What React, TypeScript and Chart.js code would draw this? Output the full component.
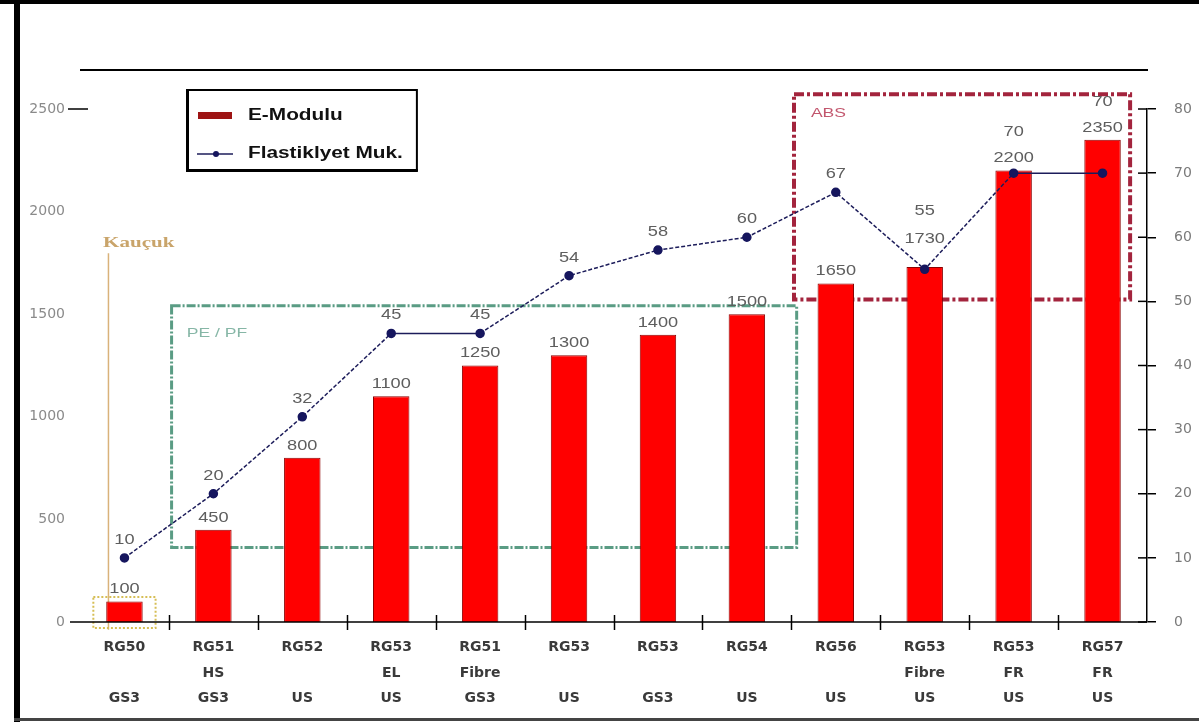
import React, { useEffect, useRef } from 'react';
import { Chart, registerables } from 'chart.js';

Chart.register(...registerables);

// ---- data ----
const catLine1 = ['RG50', 'RG51', 'RG52', 'RG53', 'RG51', 'RG53', 'RG53', 'RG54', 'RG56', 'RG53', 'RG53', 'RG57'];
const catLine2 = ['', 'HS', '', 'EL', 'Fibre', '', '', '', '', 'Fibre', 'FR', 'FR'];
const catLine3 = ['GS3', 'GS3', 'US', 'US', 'GS3', 'US', 'GS3', 'US', 'US', 'US', 'US', 'US'];
const eModulu = [100, 450, 800, 1100, 1250, 1300, 1400, 1500, 1650, 1730, 2200, 2350];
const elastikiyet = [10, 20, 32, 45, 45, 54, 58, 60, 67, 55, 70, 70];
const barLabel = 'E-Modulu';
const lineLabel = 'Flastiklyet Muk.';
const leftMax = 2500;
const leftStep = 500;
const rightMax = 80;
const rightStep = 10;
const groupKaucuk = 'Kauçuk';
const groupPE = 'PE / PF';
const groupABS = 'ABS';

function sText(ctx: CanvasRenderingContext2D, text: string, x: number, y: number, font: string, color: string, align: CanvasTextAlign = 'center', sx = 1.35) {
  ctx.save();
  ctx.font = font;
  ctx.fillStyle = color;
  ctx.textBaseline = 'middle';
  ctx.textAlign = align;
  ctx.translate(x, y);
  ctx.scale(sx, 1);
  ctx.fillText(text, 0, 0);
  ctx.restore();
}

function seg(ctx: CanvasRenderingContext2D, x0: number, y0: number, x1: number, y1: number) {
  ctx.beginPath();
  ctx.moveTo(x0, y0);
  ctx.lineTo(x1, y1);
  ctx.stroke();
}

const deco = {
  id: 'deco',
  beforeDraw(chart: any) {
    const { ctx, width, height } = chart;
    ctx.save();
    ctx.fillStyle = '#ffffff';
    ctx.fillRect(0, 0, width, height);
    ctx.fillStyle = '#000';
    ctx.fillRect(0, 0, width, 4);
    ctx.fillRect(14, 0, 6, height);
    ctx.fillStyle = '#444';
    ctx.fillRect(14, height - 4, width - 14, 3);
    ctx.restore();
  },
  beforeDatasetsDraw(chart: any) {
    const { ctx, chartArea: ca, scales } = chart;
    const x = scales.x;
    const yr = scales.y1;
    ctx.save();
    // top rule
    ctx.strokeStyle = '#000';
    ctx.lineWidth = 2;
    seg(ctx, ca.left, ca.top - 39, ca.right + 1, ca.top - 39);

    // PE / PF box
    ctx.strokeStyle = '#5a9c84';
    ctx.lineWidth = 3;
    ctx.setLineDash([9, 2, 2, 2]);
    {
      const x0 = x.getPixelForValue(0.53), x1 = x.getPixelForValue(7.56);
      const y0 = yr.getPixelForValue(49.3), y1 = yr.getPixelForValue(11.6);
      ctx.strokeRect(x0, y0, x1 - x0, y1 - y0);
    }
    // ABS box
    ctx.strokeStyle = '#a3243d';
    ctx.lineWidth = 4;
    ctx.setLineDash([10, 3, 3, 3]);
    {
      const x0 = x.getPixelForValue(7.53), x1 = x.getPixelForValue(11.31);
      const y0 = yr.getPixelForValue(82.3), y1 = yr.getPixelForValue(50.3);
      ctx.strokeRect(x0, y0, x1 - x0, y1 - y0);
    }
    // Kaucuk line
    ctx.setLineDash([]);
    ctx.strokeStyle = '#d9b27a';
    ctx.lineWidth = 1.5;
    {
      const xx = x.getPixelForValue(-0.18);
      seg(ctx, xx, yr.getPixelForValue(57.5), xx, yr.getPixelForValue(-1.2));
    }
    // yellow dotted box
    ctx.strokeStyle = '#d6be55';
    ctx.lineWidth = 2;
    ctx.setLineDash([2, 2]);
    {
      const x0 = x.getPixelForValue(-0.35), x1 = x.getPixelForValue(0.35);
      const y0 = yr.getPixelForValue(3.9), y1 = yr.getPixelForValue(-0.95);
      ctx.strokeRect(x0, y0, x1 - x0, y1 - y0);
    }
    ctx.setLineDash([]);

    // group texts
    sText(ctx, groupKaucuk, x.getPixelForValue(-0.24), yr.getPixelForValue(59.1), "bold 15px 'Liberation Serif'", '#c9a46a', 'left', 1.4);
    sText(ctx, groupPE, x.getPixelForValue(0.7), yr.getPixelForValue(45), "13px 'Liberation Sans'", '#86b6a6', 'left', 1.35);
    sText(ctx, groupABS, x.getPixelForValue(7.72), yr.getPixelForValue(79.3), "13px 'Liberation Sans'", '#c2566d', 'left', 1.35);
    ctx.restore();
  },
  afterDatasetsDraw(chart: any) {
    const { ctx, chartArea: ca, scales } = chart;
    const x = scales.x;
    const yl = scales.y;
    const yr = scales.y1;
    ctx.save();
    ctx.strokeStyle = '#000';
    ctx.lineWidth = 1.5;
    // x axis line
    seg(ctx, ca.left - 10, ca.bottom, ca.right, ca.bottom);
    // category boundary ticks
    for (let i = 0; i < catLine1.length - 1; i++) {
      const px = Math.round(x.getPixelForValue(i + 0.5)) + 0.5;
      seg(ctx, px, ca.bottom - 7, px, ca.bottom + 8);
    }
    // right axis inner ticks
    yr.ticks.forEach((t: any) => {
      const py = yr.getPixelForValue(t.value);
      seg(ctx, ca.right - 9, py, ca.right, py);
    });
    // left top tick
    {
      const py = yl.getPixelForValue(leftMax);
      seg(ctx, ca.left - 12, py, ca.left + 8, py);
    }

    // value labels
    const barMeta = chart.getDatasetMeta(1);
    const lineMeta = chart.getDatasetMeta(0);
    const vf = "14px 'Liberation Sans'";
    const n = eModulu.length;
    for (let i = 0; i < n; i++) {
      const b = barMeta.data[i];
      const p = lineMeta.data[i];
      const localMin = i > 0 && i < n - 1 && elastikiyet[i] < elastikiyet[i - 1] && elastikiyet[i] < elastikiyet[i + 1];
      let by = b.y - 12;
      let py = Math.min(p.y - 18, by - 26);
      if (localMin && Math.abs(p.y - b.y) < 14) {
        by = p.y - 30;
        py = by - 28;
      }
      sText(ctx, String(eModulu[i]), b.x, by, vf, '#5e5e5e', 'center', 1.3);
      sText(ctx, String(elastikiyet[i]), p.x, py, vf, '#5e5e5e', 'center', 1.3);
    }

    // legend
    const lx = ca.left + 107;
    const ly = ca.top - 19;
    const lf = "bold 16px 'Liberation Sans'";
    ctx.font = lf;
    const tw = Math.max(ctx.measureText(barLabel).width, ctx.measureText(lineLabel).width) * 1.3;
    const lw = 61 + tw + 14;
    const lh = 80;
    ctx.fillStyle = '#fff';
    ctx.fillRect(lx, ly, lw, lh);
    ctx.strokeStyle = '#000';
    ctx.lineWidth = 2;
    ctx.strokeRect(lx, ly, lw, lh);
    ctx.fillStyle = '#000';
    ctx.fillRect(lx - 1, ly - 1, 3, lh + 2);
    ctx.fillRect(lx - 1, ly + lh - 1, lw + 2, 3);
    // bar swatch
    ctx.fillStyle = '#9e1414';
    ctx.fillRect(lx + 11, ly + 22, 34, 7);
    sText(ctx, barLabel, lx + 61, ly + 26, lf, '#111', 'left', 1.3);
    // line swatch
    ctx.strokeStyle = '#1c1c5a';
    ctx.lineWidth = 1.5;
    seg(ctx, lx + 10, ly + 64, lx + 46, ly + 64);
    ctx.fillStyle = '#16165e';
    ctx.beginPath();
    ctx.arc(lx + 29, ly + 64, 3, 0, Math.PI * 2);
    ctx.fill();
    sText(ctx, lineLabel, lx + 61, ly + 64, lf, '#111', 'left', 1.3);
    ctx.restore();
  },
};

export default function App() {
  const ref = useRef<HTMLCanvasElement>(null);
  useEffect(() => {
    document.body.style.margin = '0';
    const canvas = ref.current!;
    const labels = catLine1.map((l, i) => [l, catLine2[i], catLine3[i]]);
    const chart = new Chart(canvas, {
      type: 'bar',
      data: {
        labels,
        datasets: [
          {
            type: 'line',
            label: lineLabel,
            data: elastikiyet,
            yAxisID: 'y1',
            borderColor: '#1c1c5a',
            borderWidth: 1.5,
            pointRadius: 4,
            pointBackgroundColor: '#16165e',
            pointBorderColor: '#16165e',
            tension: 0,
            order: 0,
            segment: {
              borderDash: (c: any) => (c.p0.parsed.y === c.p1.parsed.y ? undefined : [4, 2]),
            },
          } as any,
          {
            type: 'bar',
            label: barLabel,
            data: eModulu,
            yAxisID: 'y',
            backgroundColor: '#ff0000',
            borderColor: '#8a0000',
            borderWidth: 1,
            barPercentage: 0.41,
            categoryPercentage: 1,
            order: 1,
          } as any,
        ],
      },
      options: {
        responsive: true,
        maintainAspectRatio: false,
        animation: false,
        layout: { padding: { top: 109, left: 0, right: 0, bottom: 0 } },
        plugins: { legend: { display: false }, tooltip: { enabled: false } },
        scales: {
          x: {
            grid: { display: false, drawTicks: false },
            border: { display: false },
            ticks: {
              font: { family: 'DejaVu Sans', size: 14, weight: 'bold', lineHeight: 1.82 },
              color: '#3a3a3a',
              padding: 13,
              maxRotation: 0,
              autoSkip: false,
            },
            afterFit: (s: any) => {
              s.height = 100;
            },
          },
          y: {
            position: 'left',
            min: 0,
            max: leftMax,
            ticks: {
              stepSize: leftStep,
              font: { family: 'DejaVu Sans', size: 14 },
              color: '#8a8a8a',
              padding: 15,
              callback: (v: any) => String(v),
            },
            grid: { display: false, drawTicks: false },
            border: { display: false },
            afterFit: (s: any) => {
              s.width = 80;
            },
          },
          y1: {
            position: 'right',
            min: 0,
            max: rightMax,
            ticks: {
              stepSize: rightStep,
              font: { family: 'DejaVu Sans', size: 14 },
              color: '#7a7a7a',
              padding: 18,
              callback: (v: any) => String(v),
            },
            grid: { drawOnChartArea: false, drawTicks: true, tickLength: 9, color: '#000', lineWidth: 1.5 },
            border: { display: true, color: '#000', width: 1.5 },
            afterFit: (s: any) => {
              s.width = 52;
            },
          },
        },
      } as any,
      plugins: [deco],
    });
    return () => chart.destroy();
  }, []);
  return (
    <div style={{ width: 1199, height: 722, position: 'relative' }}>
      <canvas ref={ref} />
    </div>
  );
}
